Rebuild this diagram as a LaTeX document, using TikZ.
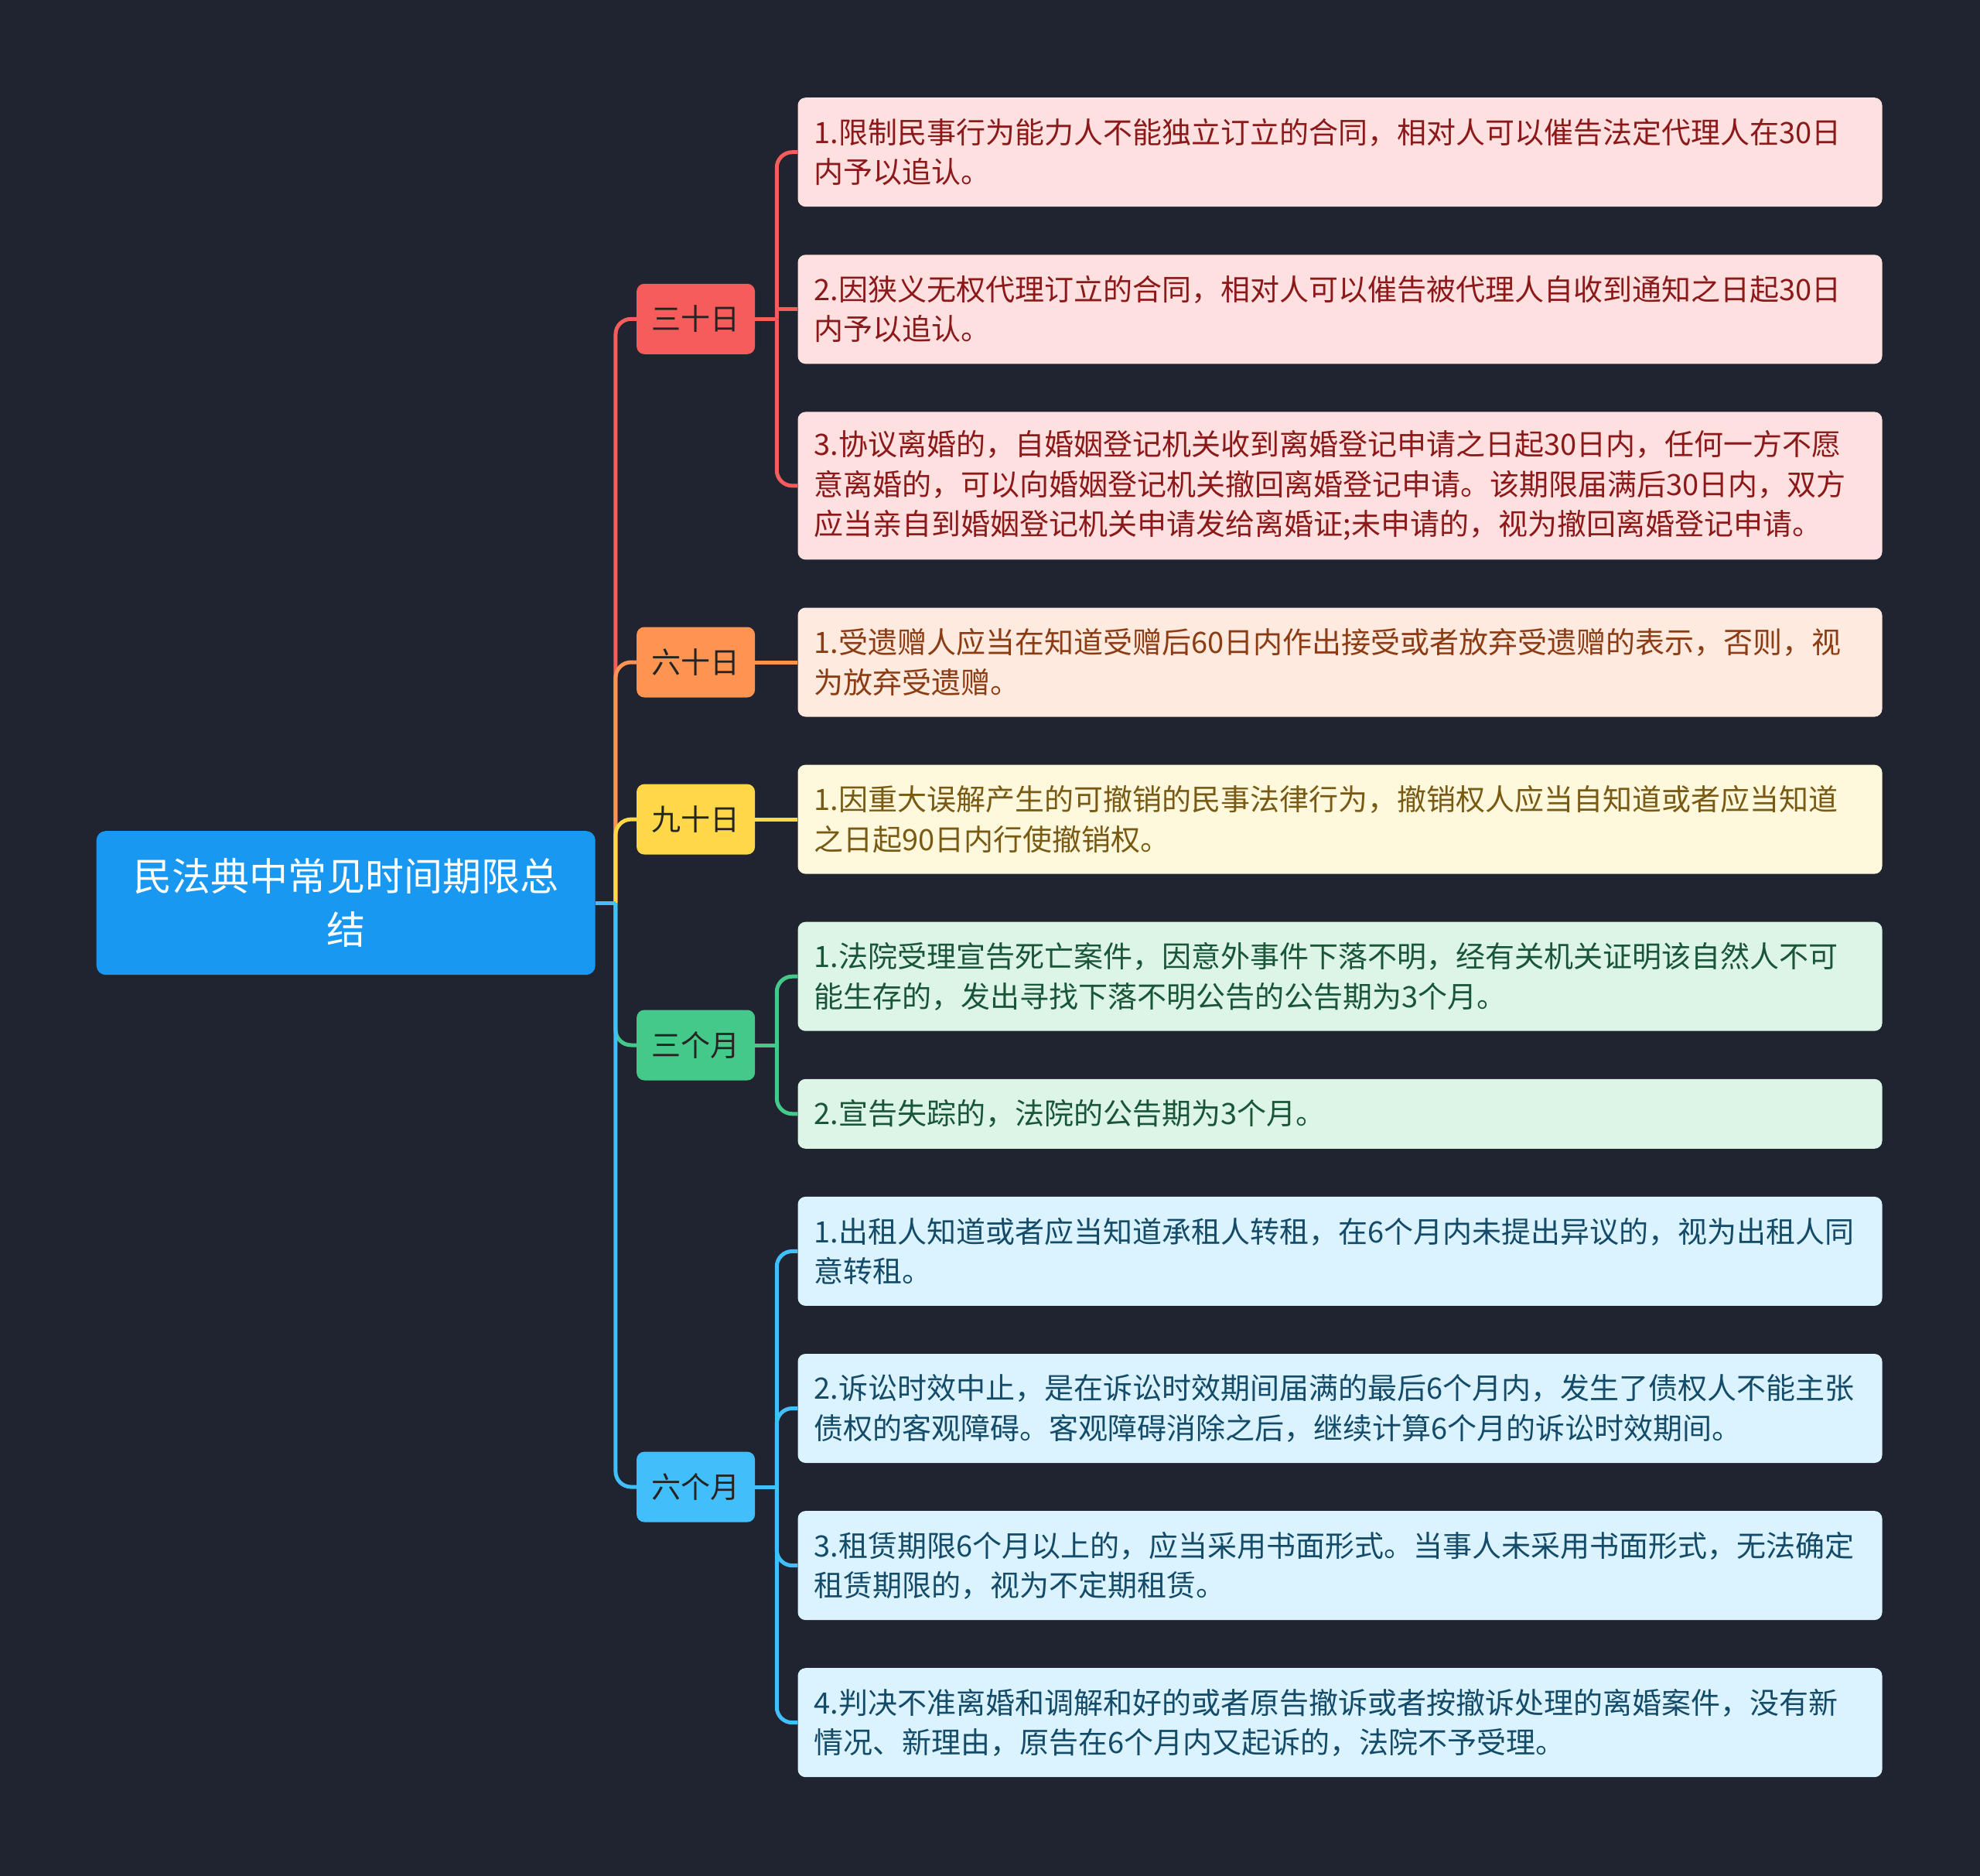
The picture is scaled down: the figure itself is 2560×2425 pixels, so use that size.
\documentclass[tikz,border=0pt]{standalone}
\usepackage{fontspec}
\setmainfont{Noto Sans CJK SC}
\usetikzlibrary{positioning,calc}
\definecolor{bgc}{RGB}{32,35,48}
\definecolor{rootc}{RGB}{24,152,240}
\definecolor{redc}{RGB}{247,92,92}
\definecolor{redl}{RGB}{254,224,224}
\definecolor{redt}{RGB}{140,25,25}
\definecolor{orac}{RGB}{253,148,82}
\definecolor{oral}{RGB}{254,234,222}
\definecolor{orat}{RGB}{140,60,20}
\definecolor{yelc}{RGB}{254,216,72}
\definecolor{yell}{RGB}{254,248,220}
\definecolor{yelt}{RGB}{120,90,20}
\definecolor{grnc}{RGB}{68,201,139}
\definecolor{grnl}{RGB}{220,245,231}
\definecolor{grnt}{RGB}{25,85,55}
\definecolor{bluc}{RGB}{64,191,250}
\definecolor{blul}{RGB}{218,243,254}
\definecolor{blut}{RGB}{20,75,105}
\definecolor{brt}{RGB}{38,36,34}

\begin{document}
\begin{tikzpicture}[
            x=1pt, y=-1pt,
            node distance=61.7pt,
            leaf/.style={rounded corners=10pt, text width=1360pt, align=left, inner xsep=21pt, inner ysep=0pt, minimum height=#1, anchor=north, font=\fontsize{38}{51.4}\selectfont},
            branch/.style={rounded corners=10pt, minimum width=153pt, minimum height=91pt, inner sep=0pt, text=brt, font=\fontsize{38}{46}\selectfont},
            root/.style={rounded corners=12pt, fill=rootc, text=white, minimum width=645pt, minimum height=186pt, text width=600pt, align=center, inner sep=0pt, font=\fontsize{50}{68.6}\selectfont},
            link/.style={line width=5pt, rounded corners=20pt}
        ]
            \fill[bgc] (0,0) rectangle (2560,2425);
            \node[leaf=141pt, fill=redl, text=redt] (s1) at (1732.5,126) {1.限制民事行为能力人不能独立订立的合同，相对人可以催告法定代理人在30日\\内予以追认。};
            \node[leaf=141pt, fill=redl, text=redt, below=of s1] (s2) {2.因狭义无权代理订立的合同，相对人可以催告被代理人自收到通知之日起30日\\内予以追认。};
            \node[leaf=191pt, fill=redl, text=redt, below=of s2] (s3) {3.协议离婚的，自婚姻登记机关收到离婚登记申请之日起30日内，任何一方不愿\\意离婚的，可以向婚姻登记机关撤回离婚登记申请。该期限届满后30日内，双方\\应当亲自到婚姻登记机关申请发给离婚证;未申请的，视为撤回离婚登记申请。};
            \node[leaf=141pt, fill=oral, text=orat, below=of s3] (l60) {1.受遗赠人应当在知道受赠后60日内作出接受或者放弃受遗赠的表示，否则，视\\为放弃受遗赠。};
            \node[leaf=141pt, fill=yell, text=yelt, below=of l60] (l90) {1.因重大误解产生的可撤销的民事法律行为，撤销权人应当自知道或者应当知道\\之日起90日内行使撤销权。};
            \node[leaf=141pt, fill=grnl, text=grnt, below=of l90] (m1) {1.法院受理宣告死亡案件，因意外事件下落不明，经有关机关证明该自然人不可\\能生存的，发出寻找下落不明公告的公告期为3个月。};
            \node[leaf=90pt, fill=grnl, text=grnt, below=of m1] (m2) {2.宣告失踪的，法院的公告期为3个月。};
            \node[leaf=141pt, fill=blul, text=blut, below=of m2] (n1) {1.出租人知道或者应当知道承租人转租，在6个月内未提出异议的，视为出租人同\\意转租。};
            \node[leaf=141pt, fill=blul, text=blut, below=of n1] (n2) {2.诉讼时效中止，是在诉讼时效期间届满的最后6个月内，发生了债权人不能主张\\债权的客观障碍。客观障碍消除之后，继续计算6个月的诉讼时效期间。};
            \node[leaf=141pt, fill=blul, text=blut, below=of n2] (n3) {3.租赁期限6个月以上的，应当采用书面形式。当事人未采用书面形式，无法确定\\租赁期限的，视为不定期租赁。};
            \node[leaf=141pt, fill=blul, text=blut, below=of n3] (n4) {4.判决不准离婚和调解和好的或者原告撤诉或者按撤诉处理的离婚案件，没有新\\情况、新理由，原告在6个月内又起诉的，法院不予受理。};

            \node[branch, fill=redc, anchor=east] (b1) at ($(s1.west)!0.5!(s3.west)+(-55,0)$) {三十日};
            \node[branch, fill=orac, left=55pt of l60] (b2) {六十日};
            \node[branch, fill=yelc, left=55pt of l90] (b3) {九十日};
            \node[branch, fill=grnc, anchor=east] (b4) at ($(m1.west)!0.5!(m2.west)+(-55,0)$) {三个月};
            \node[branch, fill=bluc, anchor=east] (b5) at ($(n1.west)!0.5!(n4.west)+(-55,0)$) {六个月};
            \node[root, anchor=east] (r) at ($(b1.west)!0.5!(b5.west)+(-53,0)$) {民法典中常见时间期限总\\结};

            \coordinate[right=26pt of r] (j);
            \coordinate[right=28pt of b1] (j1);
            \coordinate[right=28pt of b4] (j4);
            \coordinate[right=28pt of b5] (j5);

            \draw[link, redc] (j) |- (b1.west);
            \draw[link, orac] (j) |- (b2.west);
            \draw[link, yelc] (j) |- (b3.west);
            \draw[link, grnc] (j) |- (b4.west);
            \draw[link, bluc] (j) |- (b5.west);
            \draw[link, bluc] (r.east) -- (j);

            \draw[link, redc] (b1.east) -- (j1);
            \draw[link, redc] (j1) |- (s1.west);
            \draw[link, redc] (j1 |- s2.west) -- (s2.west);
            \draw[link, redc] (j1) |- (s3.west);
            \draw[link, orac] (b2) -- (l60);
            \draw[link, yelc] (b3) -- (l90);
            \draw[link, grnc] (b4.east) -- (j4);
            \draw[link, grnc] (j4) |- (m1.west);
            \draw[link, grnc] (j4) |- (m2.west);
            \draw[link, bluc] (b5.east) -- (j5);
            \draw[link, bluc] (j5) |- (n1.west);
            \draw[link, bluc] (j5) |- (n2.west);
            \draw[link, bluc] (j5) |- (n3.west);
            \draw[link, bluc] (j5) |- (n4.west);
        \end{tikzpicture}
\end{document}
